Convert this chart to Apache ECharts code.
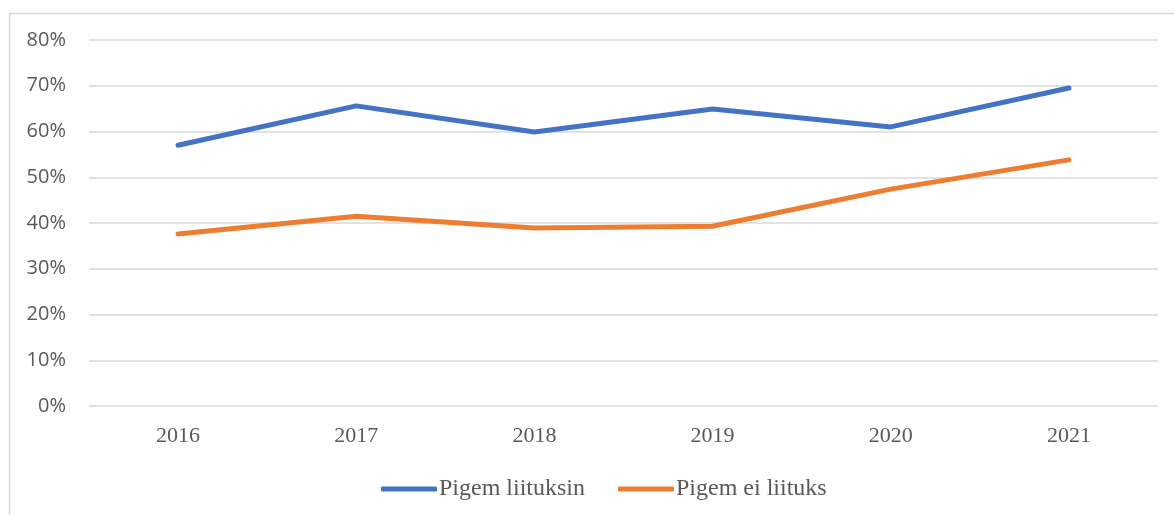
<!DOCTYPE html>
<html>
<head>
<meta charset="utf-8">
<script src="https://cdn.jsdelivr.net/npm/echarts@6/dist/echarts.min.js"></script>
<style>
  html, body { margin: 0; padding: 0; background: #fff; }
  #chart { width: 1174px; height: 515px; }
</style>
</head>
<body>
<div id="chart"></div>
<script>
// Chart data
const years = ['2016', '2017', '2018', '2019', '2020', '2021'];
const pigemLiituksin = [57.0, 65.6, 59.9, 64.9, 61.0, 69.5];
const pigemEiLiituks = [37.6, 41.5, 38.9, 39.3, 47.4, 53.8];
const yTicks = [0, 10, 20, 30, 40, 50, 60, 70, 80];

const chart = echarts.init(document.getElementById('chart'));

const option = {
    animation: false,
    graphic: [{
        type: 'rect',
        left: 7,
        top: 11,
        shape: { width: 1200, height: 520 },
        style: { fill: 'none', stroke: '#d9d9d9', lineWidth: 1.5 },
        silent: true
    }],
    grid: {
        left: 89,
        right: 16,
        top: 40,
        bottom: 109
    },
    legend: {
        top: 472,
        left: 376,
        itemWidth: 56,
        itemHeight: 5,
        itemGap: 33,
        icon: 'roundRect',
        textStyle: {
            fontFamily: 'Liberation Serif',
            fontSize: 24,
            color: '#595959',
            padding: [0, 0, 0, -3]
        },
        data: ['Pigem liituksin', 'Pigem ei liituks']
    },
    xAxis: {
        type: 'category',
        data: years,
        boundaryGap: true,
        axisLine: { show: false },
        axisTick: { show: false },
        axisLabel: {
            fontFamily: 'Liberation Serif',
            fontSize: 22,
            color: '#595959',
            margin: 19
        }
    },
    yAxis: {
        type: 'value',
        min: yTicks[0],
        max: yTicks[yTicks.length - 1],
        interval: 10,
        axisLine: { show: false },
        axisTick: { show: false },
        splitLine: { lineStyle: { color: '#d9d9d9', width: 1.5 } },
        axisLabel: {
            fontFamily: 'Open Sans',
            fontSize: 20,
            color: '#595959',
            margin: 23,
            formatter: (v) => v + '%'
        }
    },
    series: [
        {
            name: 'Pigem liituksin',
            type: 'line',
            data: pigemLiituksin,
            symbol: 'none',
            lineStyle: { color: '#4472C4', width: 5, cap: 'round' },
            itemStyle: { color: '#4472C4' }
        },
        {
            name: 'Pigem ei liituks',
            type: 'line',
            data: pigemEiLiituks,
            symbol: 'none',
            lineStyle: { color: '#ED7D31', width: 5, cap: 'round' },
            itemStyle: { color: '#ED7D31' }
        }
    ]
};

chart.setOption(option);
</script>
</body>
</html>
